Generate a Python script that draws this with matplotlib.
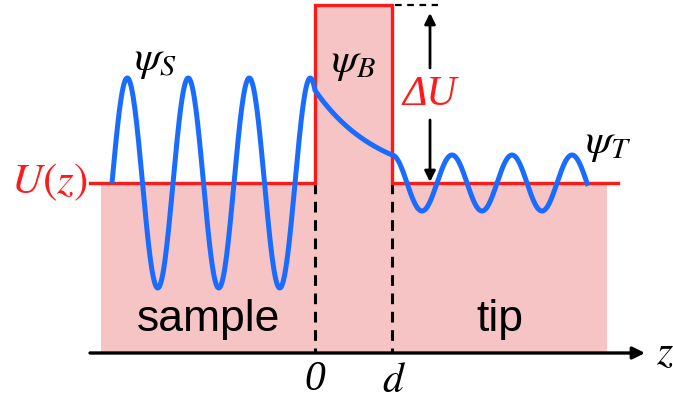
import numpy as np
import matplotlib.pyplot as plt
from matplotlib.patches import Polygon

# 势垒示意图（像素坐标，y 向下）
plt.rcParams['mathtext.fontset'] = 'stix'

# 区域边界
z_left, z0, zd, z_right = 101, 315, 392, 607
red_left, red_right = 90, 618
u_level, u_top, axis_y = 183, 5, 353

# 波函数参数
sample_start, sample_period, sample_amp = 112, 61, 105
barrier_h1 = 28
tip_end, tip_period = 588, 60

pink = '#f7c4c5'
red = '#ff1a1a'
blue = '#1a6cff'

fig = plt.figure(figsize=(6.73, 4.05), dpi=100)
ax = fig.add_axes([0, 0, 1, 1])
ax.set_xlim(0, 673)
ax.set_ylim(405, 0)
ax.axis('off')

# 粉色区域
ax.add_patch(Polygon([(z_left, u_level), (z0, u_level), (z0, u_top), (zd, u_top),
                      (zd, u_level), (z_right, u_level), (z_right, axis_y),
                      (z_left, axis_y)], closed=True, color=pink, lw=0, zorder=1))

# 虚线
ax.plot([z0, z0], [u_level, axis_y], '--', color='k', lw=2.2, dashes=(3.5, 2.5), zorder=2)
ax.plot([zd, zd], [u_level, axis_y], '--', color='k', lw=2.2, dashes=(3.5, 2.5), zorder=2)
ax.plot([zd + 3, 438], [u_top, u_top], '--', color='k', lw=1.6, dashes=(3, 2.5), zorder=2)

# 势能 U(z)
ax.plot([red_left, z0, z0, zd, zd, red_right],
        [u_level, u_level, u_top, u_top, u_level, u_level],
        color=red, lw=2.4, zorder=3, solid_joinstyle='miter')

# 波函数
x1 = np.linspace(sample_start, z0, 400)
y1 = u_level - sample_amp * np.sin(2 * np.pi * (x1 - sample_start) / sample_period)
h_start = u_level - y1[-1]
k = np.log(h_start / barrier_h1) / (zd - z0)
x2 = np.linspace(z0, zd, 200)
y2 = u_level - h_start * np.exp(-k * (x2 - z0))
x3 = np.linspace(zd, tip_end, 400)
y3 = u_level - barrier_h1 * np.cos(2 * np.pi * (x3 - zd) / tip_period)
ax.plot(np.concatenate([x1, x2, x3]), np.concatenate([y1, y2, y3]),
        color=blue, lw=3.6, zorder=4, solid_capstyle='butt')

# z 轴
ax.annotate('', xy=(645, axis_y), xytext=(90, axis_y),
            arrowprops=dict(arrowstyle='-|>', color='k', lw=2.4,
                            mutation_scale=18, shrinkA=0, shrinkB=0), zorder=5)

# ΔU 箭头
ax.annotate('', xy=(430, u_top + 8), xytext=(430, 68),
            arrowprops=dict(arrowstyle='-|>', color='k', lw=2.0,
                            mutation_scale=16, shrinkA=0, shrinkB=0))
ax.annotate('', xy=(430, u_level - 1), xytext=(430, 120),
            arrowprops=dict(arrowstyle='-|>', color='k', lw=2.0,
                            mutation_scale=16, shrinkA=0, shrinkB=0))

# 文字
serif_it = dict(family='Liberation Serif', style='italic')
ax.text(155, 60, r'$\psi_S$', fontsize=31, ha='center', va='center')
ax.text(353, 62, r'$\psi_B$', fontsize=31, ha='center', va='center')
ax.text(608, 143, r'$\psi_T$', fontsize=31, ha='center', va='center')
ax.text(430, 95, 'ΔU', fontsize=30, ha='center', va='center', color=red, **serif_it)
ax.text(49, 182, r'$U(z)$', fontsize=31, ha='center', va='center', color=red)
ax.text(209, 320, 'sample', fontsize=32, ha='center', va='center', family='Liberation Sans')
ax.text(500, 320, 'tip', fontsize=32, ha='center', va='center', family='Liberation Sans')
ax.text(315, 380, '0', fontsize=30, ha='center', va='center', **serif_it)
ax.text(394, 380, r'$d$', fontsize=30, ha='center', va='center')
ax.text(665, 352, r'$z$', fontsize=30, ha='center', va='center')

fig.savefig('out.png', dpi=100)
